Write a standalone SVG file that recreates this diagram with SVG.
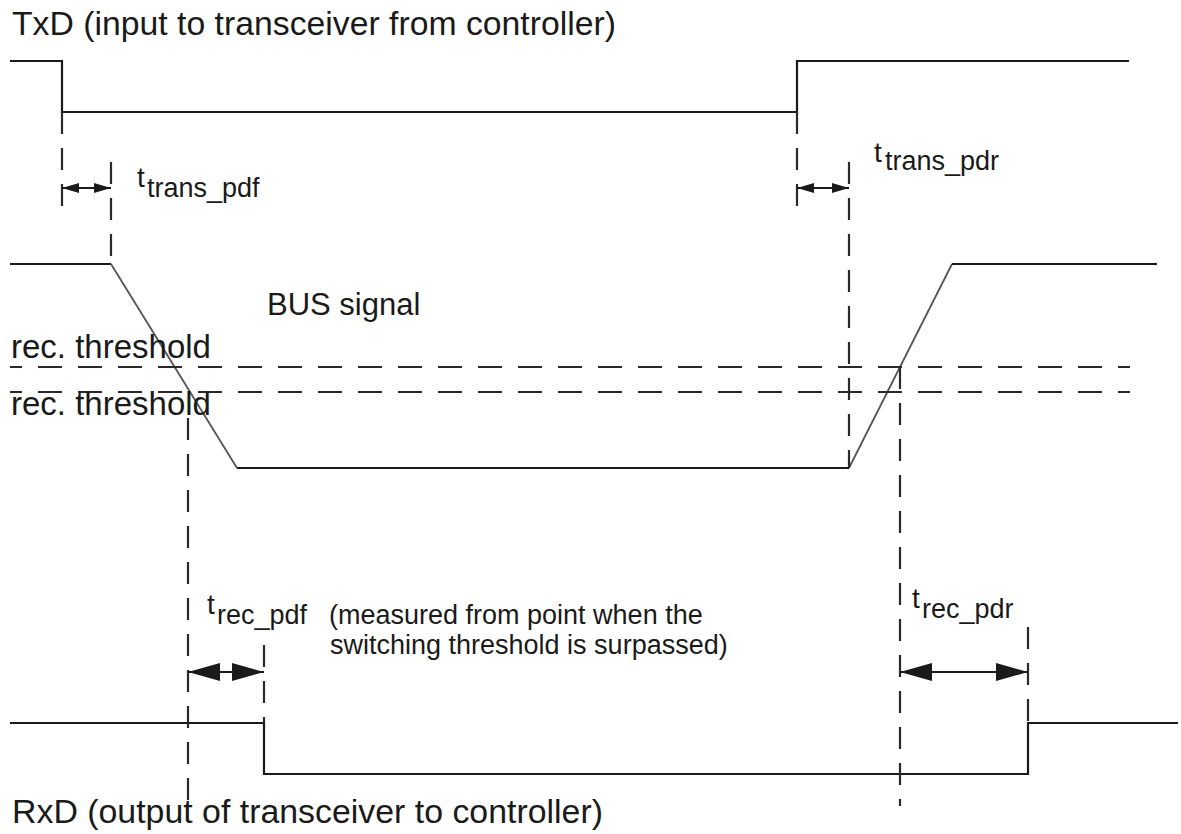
<svg xmlns="http://www.w3.org/2000/svg" width="1181" height="834" viewBox="0 0 1181 834">
<defs>
<style>
.sig{fill:none;stroke:#1a1a1a;stroke-width:2.2}
.slope{fill:none;stroke:#555;stroke-width:1.8}
.dash{fill:none;stroke:#2a2a2a;stroke-width:2.2;stroke-dasharray:24 16}
.vd{fill:none;stroke:#2a2a2a;stroke-width:2.2;stroke-dasharray:22 14}
.dim{fill:none;stroke:#1a1a1a;stroke-width:2}
.lbl{font-family:"Liberation Sans",Arial,sans-serif;fill:#1a1a1a}
</style>
<marker id="ah-s" markerUnits="userSpaceOnUse" viewBox="0 0 17 10" markerWidth="17" markerHeight="10" refX="17" refY="5" orient="auto-start-reverse"><path d="M0,0 L17,5 L0,10 z" fill="#1a1a1a"/></marker>
<marker id="ah-l" markerUnits="userSpaceOnUse" viewBox="0 0 32 18" markerWidth="32" markerHeight="18" refX="32" refY="9" orient="auto-start-reverse"><path d="M0,0 L32,9 L0,18 z" fill="#1a1a1a"/></marker>
</defs>
<rect width="1181" height="834" fill="#fff"/>

<g id="txd">
<path class="sig" d="M10,61 H62 V112 H797 V61 H1129"/>
<text class="lbl" x="12" y="35" font-size="33" textLength="604" lengthAdjust="spacingAndGlyphs">TxD (input to transceiver from controller)</text>
</g>

<g id="bus">
<path class="sig" d="M10,264 H111"/>
<path class="slope" d="M111,264 L237,468"/>
<path class="sig" d="M237,468 H849"/>
<path class="slope" d="M849,468 L952,264"/>
<path class="sig" d="M952,264 H1157"/>
<text class="lbl" x="267" y="315" font-size="31">BUS signal</text>
</g>

<g id="thresholds">
<path class="dash" d="M10,367 H1130" stroke-dashoffset="12"/>
<path class="dash" d="M10,392 H1130" stroke-dashoffset="12"/>
<text class="lbl" x="11" y="358" font-size="33">rec. threshold</text>
<text class="lbl" x="11" y="415" font-size="33">rec. threshold</text>
</g>

<g id="rxd">
<path class="sig" d="M10,723 H264 V774 H1028 V723 H1178"/>
<text class="lbl" x="12" y="823" font-size="33" textLength="591" lengthAdjust="spacingAndGlyphs">RxD (output of transceiver to controller)</text>
</g>

<g id="label-trans-pdf">
<text class="lbl" x="137" y="187" font-size="28">t</text>
<text class="lbl" x="147" y="197" font-size="27">trans_pdf</text>
</g>
<g id="label-trans-pdr">
<text class="lbl" x="874" y="162" font-size="28">t</text>
<text class="lbl" x="885" y="170" font-size="27">trans_pdr</text>
</g>
<g id="label-rec-pdf">
<text class="lbl" x="207" y="614" font-size="28">t</text>
<text class="lbl" x="217" y="624" font-size="27">rec_pdf</text>
<text class="lbl" x="329" y="624" font-size="27">(measured from point when the</text>
<text class="lbl" x="330" y="654" font-size="27">switching threshold is surpassed)</text>
</g>
<g id="label-rec-pdr">
<text class="lbl" x="912" y="608" font-size="28">t</text>
<text class="lbl" x="922" y="618" font-size="27">rec_pdr</text>
</g>

<g id="connectors">
<path class="vd" d="M62,112 V216"/>
<path class="vd" d="M111,162 V264"/>
<path class="vd" d="M797,112 V216"/>
<path class="vd" d="M849,162 V468"/>
<path class="vd" d="M188,418 V806"/>
<path class="vd" d="M900,367 V806"/>
<path class="vd" d="M264,645 V723"/>
<path class="vd" d="M1028,627 V723"/>
<path class="dim" d="M62,188 H111" marker-start="url(#ah-s)" marker-end="url(#ah-s)"/>
<path class="dim" d="M797,188 H849" marker-start="url(#ah-s)" marker-end="url(#ah-s)"/>
<path class="dim" d="M188,672 H264" marker-start="url(#ah-l)" marker-end="url(#ah-l)"/>
<path class="dim" d="M900,672 H1028" marker-start="url(#ah-l)" marker-end="url(#ah-l)"/>
</g>
</svg>
